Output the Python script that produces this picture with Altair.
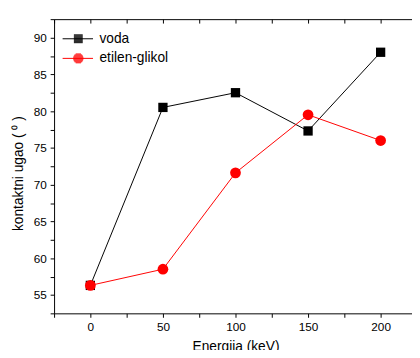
import altair as alt
import pandas as pd

# ---- data ----
energy = [0, 50, 100, 150, 200]
voda = [56.3, 80.5, 82.5, 77.3, 88.0]
etilen = [56.3, 58.5, 71.6, 79.5, 76.0]
series = ["voda", "etilen-glikol"]
colors = ["#000000", "#ff0000"]
x_ticks = [-25, 0, 25, 50, 75, 100, 125, 150, 175, 200, 225]
y_ticks = [52.5, 55, 57.5, 60, 62.5, 65, 67.5, 70, 72.5, 75, 77.5, 80,
           82.5, 85, 87.5, 90, 92.5]

rows = []
for e, v in zip(energy, voda):
    rows.append({"energy": e, "value": v, "series": series[0]})
for e, v in zip(energy, etilen):
    rows.append({"energy": e, "value": v, "series": series[1]})
df = pd.DataFrame(rows)

FONT = "Liberation Sans"

xscale = alt.Scale(domain=[-25, 225], nice=False, zero=False)
yscale = alt.Scale(domain=[52.5, 92.5], nice=False, zero=False)
cscale = alt.Scale(domain=series, range=colors)

bottom_axis = alt.Axis(
    orient="bottom", values=x_ticks, grid=False, domain=False,
    labelExpr="datum.value % 50 == 0 ? datum.label : ''",
    labelOverlap=False, labelFlush=False,
    labelFont=FONT, labelFontSize=12, labelColor="#000", labelPadding=5,
    tickSize=4, tickColor="#000", tickWidth=1,
    title="Energija (keV)", titleFont=FONT, titleFontSize=14,
    titleFontWeight="normal", titleColor="#000",
    titleX=185, titleY=38, titleBaseline="alphabetic",
)
# second bottom axis lifted to the top edge: its ticks then point into the plot
top_axis = alt.Axis(
    orient="bottom", offset=-300, values=x_ticks, grid=False, domain=False,
    labels=False, title=None,
    tickSize=4, tickColor="#000", tickWidth=1,
)
left_axis = alt.Axis(
    values=y_ticks, grid=False, domain=False,
    labelExpr="datum.value % 5 == 0 ? datum.label : ''",
    labelOverlap=False, labelFlush=False,
    labelFont=FONT, labelFontSize=12, labelColor="#000", labelPadding=4,
    tickSize=4, tickColor="#000", tickWidth=1,
    title="kontaktni ugao ( ⁰ )", titleFont=FONT, titleFontSize=14,
    titleFontWeight="normal", titleColor="#000",
    titleX=-29, titleY=157, titleBaseline="bottom",
)

X_main = alt.X("energy:Q", scale=xscale, axis=bottom_axis)
X_top = alt.X("energy:Q", scale=xscale, axis=top_axis)
X_none = alt.X("energy:Q", scale=xscale, axis=None)
Y = alt.Y("value:Q", scale=yscale, axis=left_axis)

base = alt.Chart(df)
d_voda = base.transform_filter(alt.datum.series == series[0])
d_etilen = base.transform_filter(alt.datum.series == series[1])

line_voda = d_voda.mark_line(strokeWidth=1, color=colors[0]).encode(x=X_main, y=Y, order="energy:Q")
line_etilen = d_etilen.mark_line(strokeWidth=1, color=colors[1]).encode(x=X_top, y=Y, order="energy:Q")
pts_voda = d_voda.mark_point(filled=True, opacity=1, shape="square", size=90,
                             color=colors[0]).encode(x=X_none, y=Y)
pts_etilen = d_etilen.mark_point(filled=True, opacity=1, shape="circle", size=120,
                                 color=colors[1]).encode(x=X_none, y=Y)

# legend symbols: a horizontal line with a marker, drawn with strokes only
sq_rows = [-0.8, -0.6, -0.4, -0.2, 0.0, 0.2, 0.4, 0.6, 0.8]
sq_path = "M-3.2,0H3" + "".join(f"M-0.9,{r}H0.9" for r in sq_rows)
ci_rows = [(-0.9, 0.54), (-0.7, 0.78), (-0.5, 0.92), (-0.3, 1.0), (-0.1, 1.04),
           (0.1, 1.04), (0.3, 1.0), (0.5, 0.92), (0.7, 0.78), (0.9, 0.54)]
ci_path = "M-3.2,0H3" + "".join(f"M{-w},{r}H{w}" for r, w in ci_rows)

leg = alt.Legend(
    orient="none", legendX=17.7, legendY=13, title=None, padding=0,
    labelFont=FONT, labelFontSize=14, labelColor="#000", labelOffset=14.6,
    symbolSize=100, symbolStrokeWidth=1, rowPadding=6, symbolOpacity=1,
)

legend_layer = base.mark_point(filled=False, opacity=0, strokeWidth=1).encode(
    x=X_none,
    y=Y,
    color=alt.Color("series:N", scale=cscale, legend=leg),
    shape=alt.Shape("series:N", scale=alt.Scale(domain=series, range=[sq_path, ci_path]), legend=leg),
)

chart = alt.layer(line_voda, pts_voda, line_etilen, pts_etilen, legend_layer).resolve_axis(
    x="independent"
).properties(
    width=370, height=300,
    autosize=alt.AutoSizeParams(type="none"),
    padding={"left": 47, "top": 8, "right": -5, "bottom": 34},
    background="#ffffff",
).configure_view(stroke="#000000", strokeWidth=1)

chart.save("out.html", embed_options={"renderer": "svg", "actions": False})
